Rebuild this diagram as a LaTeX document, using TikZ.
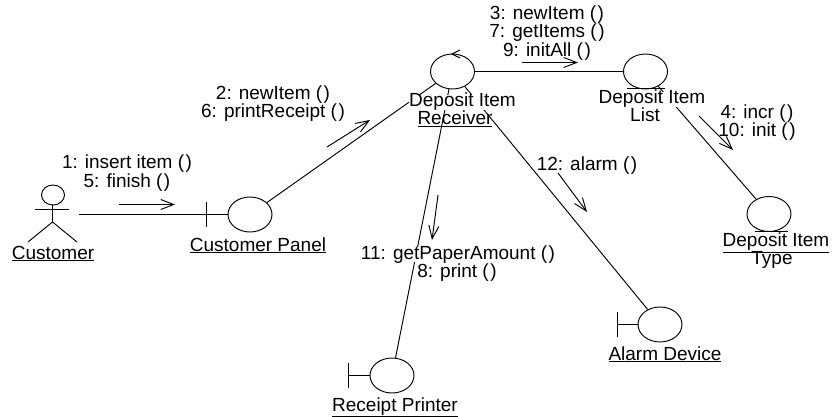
\documentclass[tikz,border=0pt]{standalone}
\usepackage{fontspec}
\setmainfont{Liberation Sans}
\usetikzlibrary{shapes.geometric,arrows.meta}
\newcommand{\pp}{(\kern1.5pt)}
\tikzset{
  x=1pt,y=-1pt,
  every path/.style={line width=0.95pt,black},
  obj/.style={ellipse,draw,fill=white,inner sep=0pt,minimum width=44pt,minimum height=35pt},
  lbl/.style={font=\fontsize{19}{18}\selectfont,inner sep=0pt,fill=white,text height=12pt,text depth=3pt,yshift=-1.5pt},
  msg/.style={-{Straight Barb[length=13pt,width=10pt,line width=0.95pt]},line width=0.95pt},
  link/.style={line width=0.95pt},
}
\begin{document}
\begin{tikzpicture}
\useasboundingbox (0,0) rectangle (833,417);
% objects
\node[obj] (panel) at (250,214.5) {};
\node[obj] (recv) at (452.5,71.5) {};
\node[obj] (list) at (645.5,71.5) {};
\node[obj] (type) at (769,214) {};
\node[obj] (alarm) at (660,324.5) {};
\node[obj] (printer) at (392,375.5) {};
% actor
\node[ellipse,draw,inner sep=0pt,minimum width=23pt,minimum height=20pt] (head) at (53,195) {};
\coordinate (hip) at (52.5,222);
\coordinate (armL) at (35,209.5);
\coordinate (armR) at (69,209.5);
\coordinate (legL) at (28,242);
\coordinate (legR) at (77,242);
\coordinate (actorEnd) at (79,214.5);
\draw (head.south -| hip) -- (hip);
\draw (armL) -- (armR);
\draw (legL) -- (hip) -- (legR);
% boundary bars
\coordinate (pa) at (206.5,202); \coordinate (pb) at (206.5,227); \coordinate (pc) at (206.5,214.5);
\draw (pa) -- (pb); \draw (pc) -- (panel);
\coordinate (aa) at (617.5,312); \coordinate (ab) at (617.5,337); \coordinate (ac) at (617.5,324.5);
\draw (aa) -- (ab); \draw (ac) -- (alarm);
\coordinate (ra) at (348.5,363); \coordinate (rb) at (348.5,388); \coordinate (rc) at (348.5,375.5);
\draw (ra) -- (rb); \draw (rc) -- (printer);
% control arrow and entity lines
\coordinate (ct) at (452,54); \coordinate (cu) at (460,50); \coordinate (cv) at (460,58);
\draw (cu) -- (ct) -- (cv);
\coordinate (la) at (627,88.5); \coordinate (lb) at (665,88.5);
\draw (la) -- (lb);
\coordinate (ta) at (755,231.5); \coordinate (tb) at (788,231.5);
\draw (ta) -- (tb);
% links
\draw[link] (actorEnd) -- (pc);
\draw[link] (panel) -- (recv);
\draw[link] (recv) -- (list);
\draw[link] (recv) -- (printer);
\draw[link] (recv) -- (alarm);
\draw[link] (list) -- (type);
% labels
\node[lbl] (t1) at (127,163) {1: insert item \pp};
\node[lbl] (t5) at (127,181) {5: finish \pp};
\node[lbl] (t2) at (273,94) {2: newItem \pp};
\node[lbl] (t6) at (273,112) {6: printReceipt \pp};
\node[lbl] (t3) at (547,14) {3: newItem \pp};
\node[lbl] (t7) at (547,32) {7: getItems \pp};
\node[lbl,fill=none] (t9) at (547,50.5) {9: initAll \pp};
\node[lbl] (t4) at (757,112.5) {4: incr \pp};
\node[lbl,fill=none] (t10) at (757,130.5) {10: init \pp};
\node[lbl,fill=none] (t12) at (587,165) {12: alarm \pp};
\node[lbl] (t11) at (458,253) {11: getPaperAmount \pp};
\node[lbl] (t8) at (457,271) {8: print \pp};
\node[lbl] (ncust) at (53,253) {\underline{Customer}};
\node[lbl] (npanel) at (258,245) {\underline{Customer Panel}};
\node[lbl] (nr1) at (462.5,101) {Deposit Item};
\node[lbl,fill=none] (nr2) at (455,119) {\underline{Receiver}};
\node[lbl] (nl2) at (645,116) {List};
\node[lbl] (nl1) at (652,98) {Deposit Item};
\node[lbl,fill=none] (nt2) at (772,258.5) {Type};
\node[lbl,fill=none] (nt1) at (776,240.5) {\underline{Deposit Item}};
\node[lbl] (nalarm) at (665,354) {\underline{Alarm Device}};
\node[lbl] (nprinter) at (395,405) {\underline{Receipt Printer}};
% message arrows
\coordinate (m1a) at (119,204.5); \coordinate (m1b) at (175,204.5);
\coordinate (m2a) at (327,147); \coordinate (m2b) at (370,120);
\coordinate (m3a) at (522,62.5); \coordinate (m3b) at (578,62.5);
\coordinate (m4a) at (699,116); \coordinate (m4b) at (733,150);
\coordinate (m8a) at (438,195); \coordinate (m8b) at (432,240);
\coordinate (m12a) at (558,173); \coordinate (m12b) at (587,212);
\draw[msg] (m1a) -- (m1b);
\draw[msg] (m2a) -- (m2b);
\draw[msg] (m3a) -- (m3b);
\draw[msg] (m4a) -- (m4b);
\draw[msg] (m8a) -- (m8b);
\draw[msg] (m12a) -- (m12b);
\end{tikzpicture}
\end{document}
